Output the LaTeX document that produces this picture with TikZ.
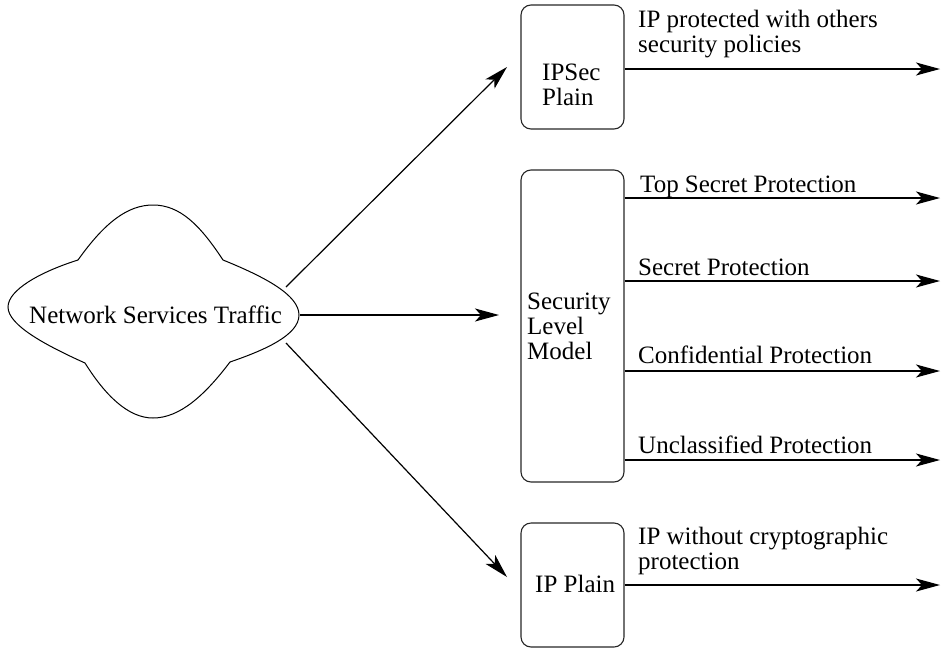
\documentclass[tikz,border=0pt]{standalone}
\usepackage{fontspec}
\setmainfont{Liberation Serif}
\usetikzlibrary{arrows.meta}
\begin{document}
\begin{tikzpicture}[x=1pt,y=-1pt,
  lbl/.style={inner sep=0pt, anchor=base west, align=left,
              font=\fontsize{25}{25}\selectfont},
  box/.style={draw=black!85, line width=1.1pt, rounded corners=10pt,
              minimum width=103pt, inner sep=0pt},
  flow/.style={line width=1.2pt, -{Stealth[length=24pt,width=13pt,inset=6pt]}},
]
\useasboundingbox (0,0) rectangle (941,648);

% cloud of network traffic
\draw[line width=1pt]
  (78,260) .. controls (105,222) and (128,205) .. (153,205)
           .. controls (180,205) and (200,225) .. (223,260)
           .. controls (265,277) and (299,295) .. (299,315)
           .. controls (299,335) and (265,350) .. (230,362)
           .. controls (205,395) and (180,418) .. (153,418)
           .. controls (128,418) and (105,395) .. (85,363)
           .. controls (45,345) and (8,325) .. (8,307)
           .. controls (8,290) and (40,272) .. cycle;
\node[lbl] (cloud) at (29,323) {Network Services Traffic};
\coordinate (cloudNE) at (286,287);
\coordinate (cloudE)  at (300,315);
\coordinate (cloudSE) at (286,343);

% processing boxes
\node[box, minimum height=124pt] (ipsec)   at (572.5,67)  {};
\node[box, minimum height=312pt] (slm)     at (572.5,326) {};
\node[box, minimum height=124pt] (ipplain) at (572.5,585) {};
% multi-line labels are placed by the baseline of their last line
\node[lbl] (ipsecT)   at (542,105) {IPSec\\Plain};
\node[lbl] (slmT)     at (527,359) {Security\\Level\\Model};
\node[lbl] (ipplainT) at (535,592) {IP Plain};

% arrows from the cloud
\coordinate (inA) at (507,67);
\coordinate (inB) at (499,315);
\coordinate (inC) at (507,577);
\draw[flow] (cloudNE) -- (inA);
\draw[flow] (cloudE)  -- (inB);
\draw[flow] (cloudSE) -- (inC);

% outgoing protection levels
\coordinate (o1) at (940,69);
\coordinate (o2) at (940,198);
\coordinate (o3) at (940,281);
\coordinate (o4) at (940,371);
\coordinate (o5) at (940,460);
\coordinate (o6) at (940,585);
\draw[flow] (ipsec.east |- o1)   -- (o1);
\draw[flow] (slm.east |- o2)     -- (o2);
\draw[flow] (slm.east |- o3)     -- (o3);
\draw[flow] (slm.east |- o4)     -- (o4);
\draw[flow] (slm.east |- o5)     -- (o5);
\draw[flow] (ipplain.east |- o6) -- (o6);

\node[lbl] (l1) at (638,52)  {IP protected with others\\security policies};
\node[lbl] (l2) at (640,192) {Top Secret Protection};
\node[lbl] (l3) at (638,275) {Secret Protection};
\node[lbl] (l4) at (638,363) {Confidential Protection};
\node[lbl] (l5) at (638,453) {Unclassified Protection};
\node[lbl] (l6) at (638,569) {IP without cryptographic\\protection};
\end{tikzpicture}
\end{document}
